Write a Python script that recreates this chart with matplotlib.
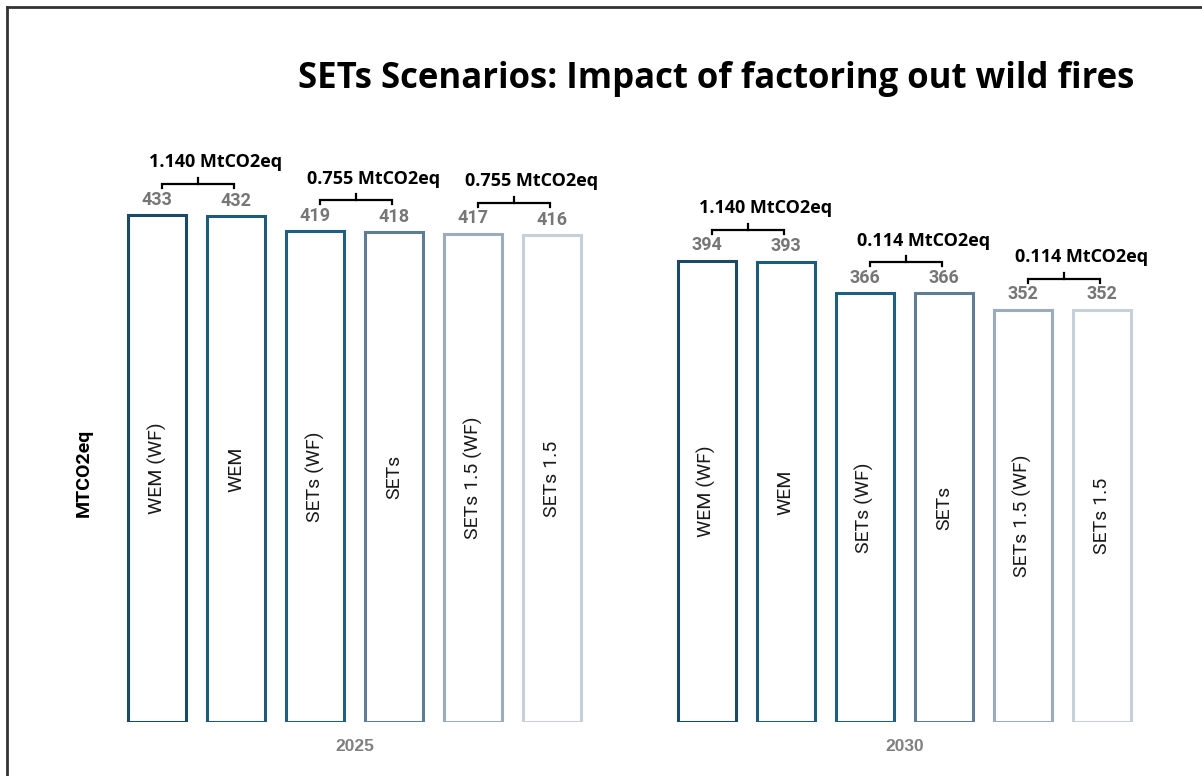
import numpy as np
import matplotlib.pyplot as plt
from matplotlib.lines import Line2D

plt.rcParams['font.family'] = ['Roboto', 'DejaVu Sans']

years = ['2025', '2030']
scenarios = ['WEM (WF)', 'WEM', 'SETs (WF)', 'SETs', 'SETs 1.5 (WF)', 'SETs 1.5']
values_2025 = [433, 432, 419, 418, 417, 416]
values_2030 = [394, 393, 366, 366, 352, 352]
diff_2025 = ['1.140 MtCO2eq', '0.755 MtCO2eq', '0.755 MtCO2eq']
diff_2030 = ['1.140 MtCO2eq', '0.114 MtCO2eq', '0.114 MtCO2eq']
colors = ['#1b4a66', '#1e5a79', '#1f6080', '#5f7d95', '#9cacbc', '#c6d0d9']

fig = plt.figure(figsize=(12.02, 7.76), dpi=100)
ax_pos = [0.0978, 0.0696, 0.8544, 0.7848]
ax = fig.add_axes(ax_pos)
ymax = 520
px = ymax / (ax_pos[3] * 776)  # data units per pixel

group_gap = 6.96
for g, (vals, diffs) in enumerate([(values_2025, diff_2025), (values_2030, diff_2030)]):
    xs = g * group_gap + np.arange(len(vals))
    ax.bar(xs, vals, width=0.73, facecolor='white', edgecolor=colors, linewidth=2.2)
    for x, v, name in zip(xs, vals, scenarios):
        ax.annotate(str(v), (x, v), xytext=(0, 4.5), textcoords='offset points',
                    ha='center', va='bottom', fontsize=13, fontweight='bold',
                    color='#767676')
        ax.text(x, v / 2, name, rotation=90, ha='center', va='center',
                fontsize=14, color='#1a1a1a')
    # brackets over each pair
    for p, txt in enumerate(diffs):
        x0, x1 = xs[2 * p] + 0.06, xs[2 * p + 1] - 0.02
        xm = (x0 + x1) / 2
        top = max(vals[2 * p], vals[2 * p + 1])
        yb = top + 31 * px
        ax.plot([x0, x0, x1, x1], [yb - 4 * px, yb, yb, yb - 4 * px],
                color='black', lw=1.6, clip_on=False, solid_joinstyle='miter')
        ax.plot([xm, xm], [yb, yb + 6 * px], color='black', lw=1.6, clip_on=False)
        ax.annotate(txt, (xs[2 * p] - 0.1, top), xytext=(0, 31.5), textcoords='offset points',
                    ha='left', va='bottom', fontsize=13, fontweight='bold', color='black',
                    family='Open Sans')

ax.set_xlim(-0.5, 12.5)
ax.set_ylim(0, ymax)
ax.set_xticks([2.5, group_gap + 2.5])
ax.set_xticklabels(years, fontsize=12.5, fontweight='bold', color='#808080',
                   family='Liberation Sans')
ax.tick_params(axis='x', length=0, pad=12)
ax.set_yticks([])
for s in ax.spines.values():
    s.set_visible(False)

fig.text(84 / 1202, 1 - 473 / 776, 'MTCO2eq', rotation=90, ha='center', va='center',
         fontsize=14, fontweight='bold', color='black')
fig.text(716 / 1202, 1 - 79 / 776, 'SETs Scenarios: Impact of factoring out wild fires',
         ha='center', va='center', fontsize=25, fontweight='bold', color='black',
         family='Open Sans')

fig.add_artist(Line2D([7 / 1202, 7 / 1202], [0, 1 - 7 / 776], color='#333333', lw=2))
fig.add_artist(Line2D([7 / 1202, 1], [1 - 7 / 776, 1 - 7 / 776], color='#333333', lw=2))

fig.savefig('out.png', dpi=100)
